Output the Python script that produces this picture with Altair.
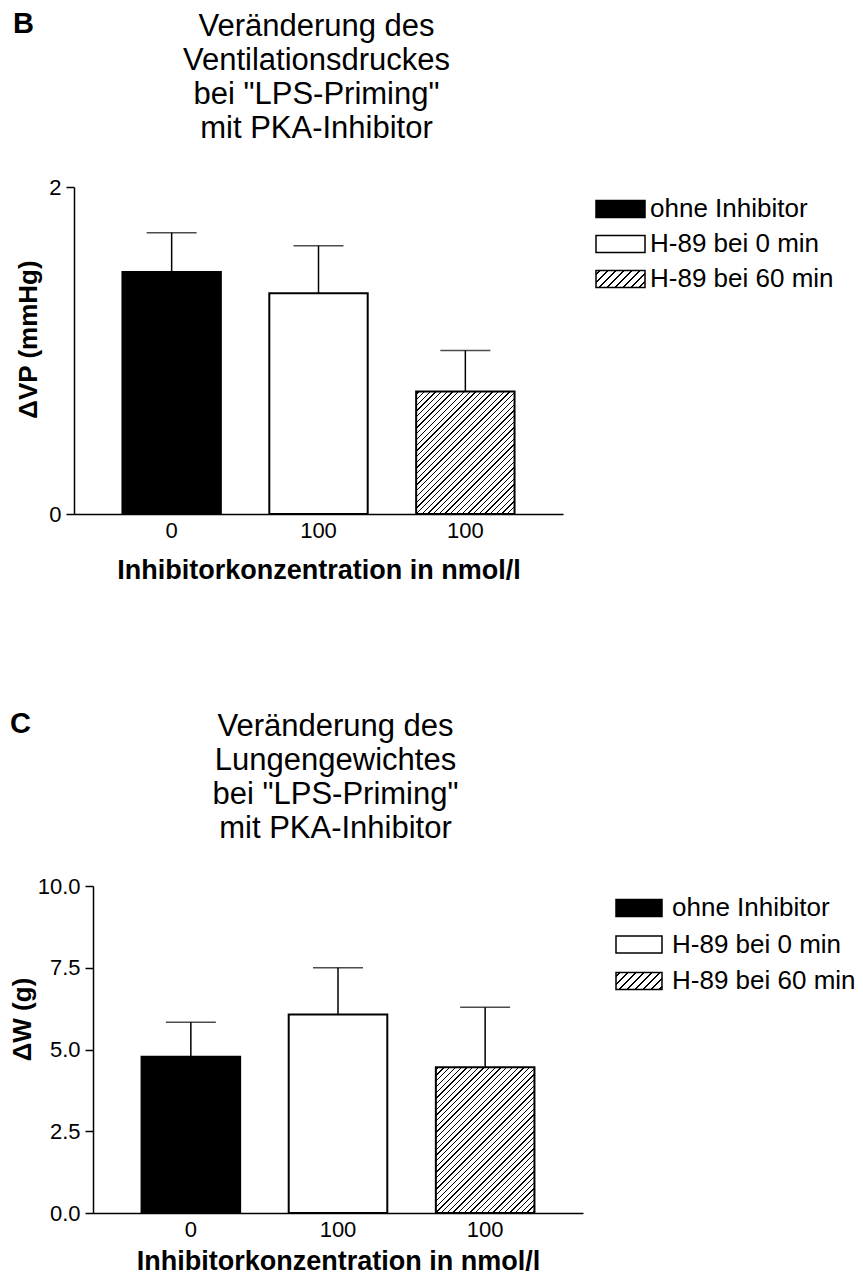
import altair as alt
import pandas as pd

# ---------------- data ----------------
groups = ["ohne Inhibitor", "H-89 bei 0 min", "H-89 bei 60 min"]
conc_labels = ["0", "100", "100"]

vp_mean = [1.48, 1.35, 0.75]
vp_upper = [1.72, 1.64, 1.00]

w_mean = [4.78, 6.07, 4.46]
w_upper = [5.83, 7.50, 6.29]

vp_ticks = [0, 1, 2]
w_ticks = [0, 2.5, 5, 7.5, 10]

title_b = ["Veränderung des", "Ventilationsdruckes", 'bei "LPS-Priming"', "mit PKA-Inhibitor"]
title_c = ["Veränderung des", "Lungengewichtes", 'bei "LPS-Priming"', "mit PKA-Inhibitor"]
x_title = "Inhibitorkonzentration in nmol/l"

# ---------------- layout / style ----------------
FONT = "Liberation Sans"
W, H = 847, 1267
M = 8
PI, PO = 0.33, 0.33


def hatch(w, h, period, thick):
    total = w + h
    stops = [{"offset": 0, "color": "white"}]
    c = period / 2.0
    while c < total:
        a = round(max(0.0, (c - thick / 2.0) / total), 5)
        b = round(min(1.0, (c + thick / 2.0) / total), 5)
        stops += [
            {"offset": a, "color": "white"},
            {"offset": a, "color": "black"},
            {"offset": b, "color": "black"},
            {"offset": b, "color": "white"},
        ]
        c += period
    stops.append({"offset": 1, "color": "white"})
    k = total / (w * w + h * h)
    return {"gradient": "linear", "x1": 0, "y1": 0,
            "x2": round(k * w, 5), "y2": round(k * h, 5), "stops": stops}


label_expr = "".join(
    f"datum.value === '{g}' ? '{l}' : " for g, l in zip(groups, conc_labels)
) + "''"


def panel(mean, upper, ymax, ticks, fmt, x0, x1, ytop, ybot, ytitle, yt_x, yt_y, xt_y):
    df = pd.DataFrame({"group": groups, "value": mean, "upper": upper})
    xs = alt.Scale(domain=groups, range=[x0 - M, x1 - M],
                   paddingInner=PI, paddingOuter=PO)
    ys = alt.Scale(domain=[0, ymax], range=[ybot - M, ytop - M], nice=False, zero=True)
    xaxis = alt.Axis(orient="bottom", offset=(ybot - M) - H, labelExpr=label_expr,
                     ticks=False, tickSize=0, labelPadding=6, labelFontSize=22,
                     labelAngle=0, domainWidth=1.5, domainColor="black",
                     title=x_title, titleFontSize=27, titleFontWeight="bold",
                     titleBaseline="alphabetic", titleY=xt_y)
    yaxis = alt.Axis(orient="left", offset=-(x0 - M), values=ticks, format=fmt,
                     tickSize=8, tickWidth=1.5, tickColor="black",
                     domainWidth=1.5, domainColor="black",
                     labelPadding=5, labelFontSize=22,
                     title=ytitle, titleFontSize=26, titleFontWeight="bold",
                     titleBaseline="alphabetic", titleAngle=270,
                     titleX=yt_x - x0, titleY=yt_y - M)
    X = alt.X("group:N", scale=xs, axis=xaxis, sort=groups)
    base = alt.Chart(df)
    rules = base.mark_rule(color="black", strokeWidth=1.5).encode(
        x=X, y=alt.Y("value:Q", scale=ys, axis=yaxis), y2="upper:Q")
    caps = base.mark_tick(color="black", thickness=1.5, size=50).encode(
        x=X, y=alt.Y("upper:Q", scale=ys, axis=yaxis))
    rng = x1 - x0
    bw = rng * (1 - PI) / (len(groups) - PI + 2 * PO)
    bh = mean[2] / ymax * (ybot - ytop)
    fills = ["black", "white", hatch(bw, bh, 5.7, 1.3)]
    bars = [
        base.transform_filter(alt.datum.group == g)
        .mark_bar(fill=f, stroke="black", strokeWidth=2)
        .encode(x=X, y=alt.Y("value:Q", scale=ys, axis=yaxis))
        for g, f in zip(groups, fills)
    ]
    return alt.layer(rules, caps, *bars)


def legend(x_sw, sw_w, x_txt, y_first, step, sw_h=17):
    ldf = pd.DataFrame({"group": groups})
    n = len(groups)
    pi = 1 - sw_h / step
    r0 = y_first - sw_h / 2 - M
    r1 = r0 + step * (n - pi)
    ls = alt.Scale(domain=groups, range=[r0, r1], paddingInner=pi, paddingOuter=0)
    LY = alt.Y("group:N", scale=ls, axis=None, sort=groups)
    fills = ["black", "white", hatch(sw_w, sw_h, 8, 1.3)]
    sw = [
        alt.Chart(ldf).transform_filter(alt.datum.group == g)
        .mark_rect(fill=f, stroke="black", strokeWidth=1.5)
        .encode(y=LY, x=alt.value(x_sw - M), x2=alt.value(x_sw + sw_w - M))
        for g, f in zip(groups, fills)
    ]
    txt = alt.Chart(ldf).mark_text(align="left", baseline="middle", fontSize=26,
                                   font=FONT, color="black").encode(
        y=LY, x=alt.value(x_txt - M), text="group:N")
    return alt.layer(*sw, txt)


one = pd.DataFrame({"k": [0]})


def text_block(lines, x, y, size, bold=False, align="center"):
    return alt.Chart(one).mark_text(
        text=lines, align=align, baseline="alphabetic", fontSize=size,
        lineHeight=34, font=FONT, fontWeight="bold" if bold else "normal",
        color="black").encode(x=alt.value(x - M), y=alt.value(y - M))


pB = panel(vp_mean, vp_upper, 2, vp_ticks, "d", 74, 563, 187, 514,
           "ΔVP (mmHg)", 36, 339, 64)
pC = panel(w_mean, w_upper, 10, w_ticks, ".1f", 93, 583, 886, 1213,
           "ΔW (g)", 30, 1019, 56)
lB = legend(596, 49, 650, 209, 35)
lC = legend(616, 46, 672, 908, 36.5)

chart = alt.layer(
    pB, pC, lB, lC,
    text_block(title_b, 316.5, 36, 31),
    text_block(title_c, 335.5, 736, 31),
    text_block("B", 13, 33, 29, bold=True, align="left"),
    text_block("C", 10, 733, 29, bold=True, align="left"),
).resolve_scale(x="independent", y="independent").properties(
    width=W, height=H, autosize=alt.AutoSizeParams(type="none"), padding=0
).configure_view(stroke=None).configure_axis(
    grid=False, labelFont=FONT, titleFont=FONT, labelColor="black", titleColor="black"
)

chart.save("out.html", embed_options={"renderer": "svg", "actions": False})
